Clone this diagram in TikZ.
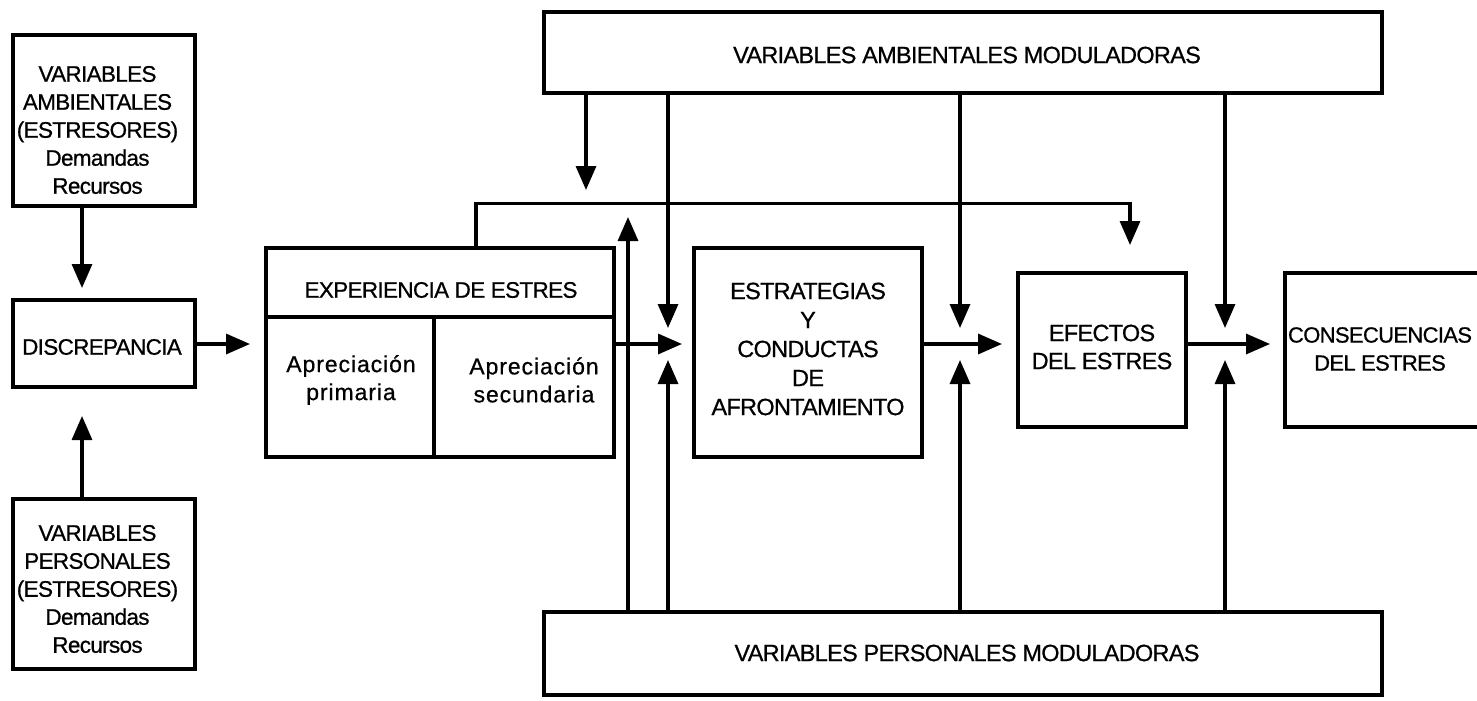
\documentclass[tikz,border=0pt]{standalone}
\usepackage{fontspec}
\setmainfont{Liberation Sans}[LetterSpace=-3, FakeBold=0.7]
\newfontfamily\apfont{Liberation Sans}[LetterSpace=4, FakeBold=0.7]
\usetikzlibrary{arrows.meta,fit,calc}

\begin{document}
\begin{tikzpicture}[x=1pt,y=-1pt,
  box/.style={draw, line width=3.3pt, inner sep=0pt},
  txt/.style={inner sep=0pt, align=center, font=\fontsize{23.5}{28}\selectfont},
  smalltxt/.style={txt, font=\fontsize{22.5}{28}\selectfont},
  aptxt/.style={txt, font=\fontsize{23}{28}\selectfont\apfont},
  arr/.style={line width=3.3pt, -{Triangle[width=20pt,length=24pt]}}]

\useasboundingbox (0,0) rectangle (1477,701);
\clip (0,0) rectangle (1477,701);

% left column: stressors and discrepancy
\node[box, fit={(13,35) (195,206)}] (ambEst) {};
\node[smalltxt] (ambEstTxt) at (97.5,130)
  {VARIABLES\\AMBIENTALES\\(ESTRESORES)\\Demandas\\Recursos};
\node[box, fit={(13,300) (195,387)}] (disc) {};
\node[smalltxt] (discTxt) at (102,347) {DISCREPANCIA};
\node[box, fit={(13,499) (195,669)}] (perEst) {};
\node[smalltxt] (perEstTxt) at (97.5,589)
  {VARIABLES\\PERSONALES\\(ESTRESORES)\\Demandas\\Recursos};

% stress experience block
\node[box, fit={(266,248) (614,317)}] (expHead) {};
\node[smalltxt] (expHeadTxt) at (441,290) {EXPERIENCIA DE ESTRES};
\node[box, fit={(266,317) (434,457)}] (expPri) {};
\node[aptxt] (expPriTxt) at (351,380) {Apreciación\\primaria};
\node[box, fit={(434,317) (614,457)}] (expSec) {};
\node[aptxt] (expSecTxt) at (534,380) {Apreciación\\secundaria};

% process chain
\node[box, fit={(694,248) (922,457)}] (coping) {};
\node[txt, font=\fontsize{23.5}{29}\selectfont] (copingTxt) at (808,349)
  {ESTRATEGIAS\\Y\\CONDUCTAS\\DE\\AFRONTAMIENTO};
\node[box, fit={(1018,273) (1186,427)}] (effects) {};
\node[txt] (effectsTxt) at (1102,347) {EFECTOS\\DEL ESTRES};
\node[box, fit={(1285,273) (1480,427)}] (conseq) {};
\node[txt, font=\fontsize{22}{28}\selectfont] (conseqTxt) at (1380,349)
  {CONSECUENCIAS\\DEL ESTRES};

% modulating variables
\node[box, fit={(544,12) (1382,93)}] (ambMod) {};
\node[txt] (ambModTxt) at (967,55) {VARIABLES AMBIENTALES MODULADORAS};
\node[box, fit={(544,612) (1382,695)}] (perMod) {};
\node[txt] (perModTxt) at (967,653) {VARIABLES PERSONALES MODULADORAS};

% arrow end points
\coordinate (tipAD) at (82,288);
\coordinate (tipPD) at (82,416);
\coordinate (tipDE) at (250,344);
\coordinate (tipJ1) at (682,344);
\coordinate (tipJ2) at (1002,344);
\coordinate (tipJ3) at (1270,344);
\coordinate (dnA) at (586,190);
\coordinate (upA) at (628,217);
\coordinate (dn1) at (668,328);
\coordinate (up1) at (668,360);
\coordinate (dn2) at (960,328);
\coordinate (up2) at (960,360);
\coordinate (dn3) at (1225,328);
\coordinate (up3) at (1225,360);
\coordinate (fbTip) at (1130,245);
\coordinate (fbBase) at (476,248);

% left column arrows
\draw[arr] (ambEst.south -| tipAD) -- (tipAD);
\draw[arr] (perEst.north -| tipPD) -- (tipPD);
\draw[arr] (disc.east |- tipDE) -- (tipDE);

% main chain arrows
\draw[arr] (expSec.east |- tipJ1) -- (tipJ1);
\draw[arr] (coping.east |- tipJ2) -- (tipJ2);
\draw[arr] (effects.east |- tipJ3) -- (tipJ3);

% feedback from the stress experience to the effects
\draw[arr] (expHead.north -| fbBase) -- ++(0,-43) -| (fbTip);

% environmental modulators
\draw[arr] (ambMod.south -| dnA) -- (dnA);
\draw[arr] (ambMod.south -| dn1) -- (dn1);
\draw[arr] (ambMod.south -| dn2) -- (dn2);
\draw[arr] (ambMod.south -| dn3) -- (dn3);

% personal modulators
\draw[arr] (perMod.north -| upA) -- (upA);
\draw[arr] (perMod.north -| up1) -- (up1);
\draw[arr] (perMod.north -| up2) -- (up2);
\draw[arr] (perMod.north -| up3) -- (up3);
\end{tikzpicture}
\end{document}
